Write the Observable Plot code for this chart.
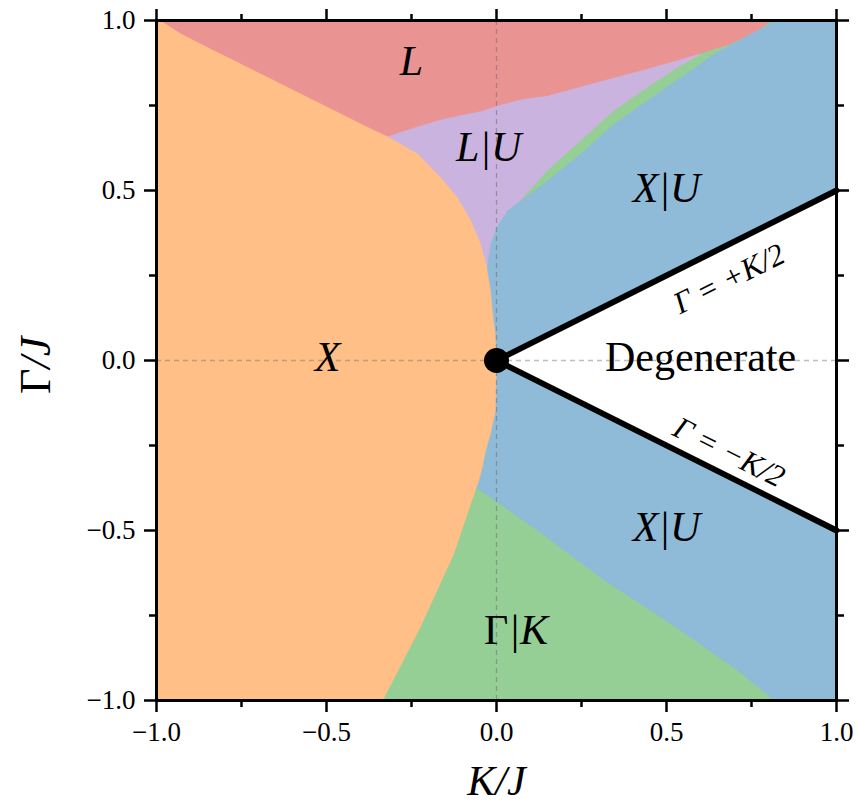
<!DOCTYPE html>
<html><head><meta charset="utf-8">
<script src="https://cdn.jsdelivr.net/npm/d3@7"></script>
<script src="https://cdn.jsdelivr.net/npm/@observablehq/plot@0.6"></script>
<style>body{margin:0;background:#fff} svg, svg text{font-family:"Liberation Serif" !important;}</style>
</head><body><div id="chart"></div>
<script>
// Phase boundaries as [K/J, Γ/J] pairs
const orangeEdge = [[-0.99,1.0],[-0.929,0.961],[-0.871,0.931],[-0.773,0.882],[-0.674,0.833],[-0.576,0.784],[-0.478,0.735],[-0.380,0.686],[-0.322,0.659],[-0.233,0.608],[-0.165,0.539],[-0.116,0.48],[-0.076,0.412],[-0.047,0.343],[-0.03,0.28],[-0.018,0.206],[-0.012,0.142],[-0.004,0.079],[0,0],[-0.003,-0.147],[-0.018,-0.216],[-0.032,-0.265],[-0.042,-0.314],[-0.052,-0.353],[-0.06,-0.375],[-0.126,-0.569],[-0.224,-0.784],[-0.335,-1.0]];
const redEdge = [[-0.322,0.659],[-0.233,0.688],[-0.16,0.71],[-0.04,0.735],[0.002,0.75],[0.08,0.77],[0.149,0.779],[0.296,0.819],[0.443,0.858],[0.561,0.892],[0.688,0.931],[0.767,0.971],[0.81,1.0]];
const purpleEdge = [[-0.03,0.26],[-0.018,0.343],[0,0.392],[0.032,0.441],[0.071,0.471],[0.149,0.559],[0.247,0.647],[0.345,0.735],[0.443,0.804],[0.541,0.868],[0.6,0.9],[0.6,1.0]];
const greenUpperEdge = [[0.032,0.441],[0.149,0.529],[0.247,0.608],[0.345,0.696],[0.443,0.765],[0.541,0.833],[0.639,0.902],[0.737,0.956],[0.82,1.0]];
const greenLowerEdge = [[-0.06,-0.375],[0.001,-0.417],[0.119,-0.5],[0.316,-0.647],[0.512,-0.775],[0.708,-0.912],[0.816,-1.0]];
const degenerateK = [0, 1];           // Γ = ±K/2 lines
const domainK = [-1, 1];
const majorTicks = [-1, -0.5, 0, 0.5, 1];
const minorTicks = [-0.75, -0.25, 0.25, 0.75];
const phaseLabels = [
  {text: "L", K: -0.25, G: 0.879},
  {text: "L|U", K: -0.023, G: 0.626},
  {text: "X|U", K: 0.5, G: 0.506},
  {text: "X", K: -0.497, G: 0.009},
  {text: "X|U", K: 0.5, G: -0.491}
];
const gammaK = {K: 0.035, G: -0.794};
const lineLabels = [
  {text: "Γ = +K/2", K: 0.684, G: 0.24, rot: -26.57},
  {text: "Γ = −K/2", K: 0.684, G: -0.27, rot: 26.57}
];
const colors = {orange: "#ffbf86", red: "#ea9393", purple: "#cab3de", green: "#95cf95", blue: "#8fbbd9"};

const FONT = "Liberation Serif";
const poly = (pts, fill) => Plot.line(pts, {x: d => d[0], y: d => d[1], fill, stroke: fill, strokeWidth: 0.5, curve: "linear"});
const lo = domainK[0], hi = domainK[1];

const chart = Plot.plot({
  width: 859, height: 806,
  marginLeft: 156, marginRight: 23, marginTop: 20, marginBottom: 106,
  x: {domain: domainK},
  y: {domain: domainK},
  style: {fontFamily: FONT, background: "white", color: "black"},
  marks: [
    Plot.frame({fill: colors.blue, stroke: "none"}),
    poly([...greenUpperEdge, [lo, hi], [lo, greenUpperEdge[0][1]]], colors.green),
    poly([...purpleEdge, [lo, hi], [lo, purpleEdge[0][1]]], colors.purple),
    poly([...redEdge, [lo, hi], [lo, redEdge[0][1]]], colors.red),
    poly([...greenLowerEdge, [lo, lo], [lo, greenLowerEdge[0][1]]], colors.green),
    poly([[lo, hi], ...orangeEdge, [lo, lo]], colors.orange),
    Plot.areaY(degenerateK, {x: k => k, y1: k => -k / 2, y2: k => k / 2, fill: "white"}),
    Plot.ruleX([0], {stroke: "#707070", strokeOpacity: 0.55, strokeDasharray: "5,4", strokeWidth: 1.3}),
    Plot.ruleY([0], {stroke: "#707070", strokeOpacity: 0.45, strokeDasharray: "5,4", strokeWidth: 1.3}),
    Plot.line(degenerateK, {x: k => k, y: k => k / 2, stroke: "black", strokeWidth: 6}),
    Plot.line(degenerateK, {x: k => k, y: k => -k / 2, stroke: "black", strokeWidth: 6}),
    Plot.dot([[0, 0]], {x: d => d[0], y: d => d[1], r: 12.5, fill: "black", stroke: "none"}),
    Plot.text(phaseLabels, {x: "K", y: "G", text: "text", fontFamily: FONT, fontSize: 42, fontStyle: "italic", lineAnchor: "middle"}),
    Plot.text([gammaK], {x: "K", y: "G", text: () => "Γ", textAnchor: "end", fontFamily: FONT, fontSize: 42, lineAnchor: "middle"}),
    Plot.text([gammaK], {x: "K", y: "G", text: () => "|K", textAnchor: "start", fontFamily: FONT, fontSize: 42, fontStyle: "italic", lineAnchor: "middle"}),
    Plot.text([{K: 0.6, G: 0.009}], {x: "K", y: "G", text: () => "Degenerate", fontFamily: FONT, fontSize: 42, lineAnchor: "middle"}),
    Plot.text(lineLabels, {x: "K", y: "G", text: "text", rotate: "rot", fontFamily: FONT, fontSize: 31, fontStyle: "italic", lineAnchor: "middle"}),
    Plot.frame({stroke: "black", strokeWidth: 3}),
    Plot.axisX(majorTicks, {anchor: "bottom", tickSize: 12, tickPadding: 9, tickFormat: d3.format(".1f"), fontFamily: FONT, fontSize: 27, strokeWidth: 2.5, label: null}),
    Plot.axisX(minorTicks, {anchor: "bottom", tickSize: 7, tickFormat: () => "", strokeWidth: 2.5, label: null}),
    Plot.axisX(majorTicks, {anchor: "top", tickSize: 12, tickFormat: () => "", strokeWidth: 2.5, label: null}),
    Plot.axisX(minorTicks, {anchor: "top", tickSize: 7, tickFormat: () => "", strokeWidth: 2.5, label: null}),
    Plot.axisY(majorTicks, {anchor: "left", tickSize: 12, tickPadding: 9, tickFormat: d3.format(".1f"), fontFamily: FONT, fontSize: 27, strokeWidth: 2.5, label: null}),
    Plot.axisY(minorTicks, {anchor: "left", tickSize: 7, tickFormat: () => "", strokeWidth: 2.5, label: null}),
    Plot.axisY(majorTicks, {anchor: "right", tickSize: 12, tickFormat: () => "", strokeWidth: 2.5, label: null}),
    Plot.axisY(minorTicks, {anchor: "right", tickSize: 7, tickFormat: () => "", strokeWidth: 2.5, label: null}),
    Plot.text(["K/J"], {frameAnchor: "bottom", dy: 81, text: d => d, fontFamily: FONT, fontSize: 42, fontStyle: "italic", lineAnchor: "middle"}),
    Plot.text(["Γ"], {frameAnchor: "left", dx: -121, dy: 8, rotate: -90, text: d => d, textAnchor: "end", fontFamily: FONT, fontSize: 44, lineAnchor: "middle"}),
    Plot.text(["/J"], {frameAnchor: "left", dx: -121, dy: 8, rotate: -90, text: d => d, textAnchor: "start", fontFamily: FONT, fontSize: 44, fontStyle: "italic", lineAnchor: "middle"})
  ]
});
document.getElementById("chart").appendChild(chart);
</script>
</body></html>
